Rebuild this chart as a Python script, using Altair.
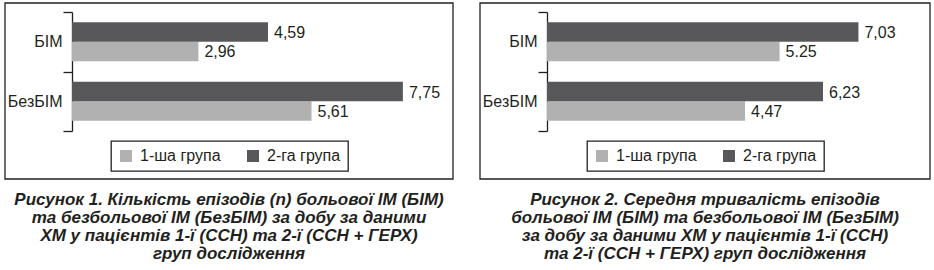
import altair as alt
import pandas as pd

categories = ["БІМ", "БезБІМ"]
groups = ["1-ша група", "2-га група"]

fig1_g1 = [2.96, 5.61]
fig1_g2 = [4.59, 7.75]
fig1_lab_g1 = ["2,96", "5,61"]
fig1_lab_g2 = ["4,59", "7,75"]

fig2_g1 = [5.25, 4.47]
fig2_g2 = [7.03, 6.23]
fig2_lab_g1 = ["5.25", "4,47"]
fig2_lab_g2 = ["7,03", "6,23"]

cap1 = ["Рисунок 1.  Кількість епізодів (n) больової ІМ (БІМ)",
        "та безбольової ІМ (БезБІМ) за добу за даними",
        "ХМ у пацієнтів 1-ї (ССН) та 2-ї (ССН + ГЕРХ)",
        "груп дослідження"]
cap2 = ["Рисунок 2.  Середня тривалість епізодів",
        "больової ІМ (БІМ) та безбольової ІМ (БезБІМ)",
        "за добу за даними ХМ у пацієнтів 1-ї (ССН)",
        "та 2-ї (ССН + ГЕРХ) груп дослідження"]

FONT = "Liberation Sans"
INK = "#231f20"
LIGHT = "#b1b1b1"
DARK = "#58585a"
FS = 16


def panel(g1, g2, lab1, lab2, xdomain, xrange, axis_off, leg_x, leg_y):
    df = pd.DataFrame({
        "cat": categories + categories,
        "grp": [groups[0]] * 2 + [groups[1]] * 2,
        "val": g1 + g2,
        "lab": lab1 + lab2,
    })
    base = alt.Chart(df).encode(
        y=alt.Y("cat:N", title=None,
                scale=alt.Scale(domain=categories, range=[12, 131], paddingInner=0, paddingOuter=0),
                axis=alt.Axis(orient="left", offset=axis_off, domainColor=INK, domainWidth=1.3,
                              tickColor=INK, tickWidth=1.3, tickSize=9, tickBand="extent",
                              labelFont=FONT, labelFontSize=FS, labelColor=INK, labelPadding=1,
                              grid=False)),
        yOffset=alt.YOffset("grp:N",
                            scale=alt.Scale(domain=[groups[1], groups[0]], paddingInner=0, paddingOuter=0.526)),
        x=alt.X("val:Q", axis=None,
                scale=alt.Scale(domain=xdomain, range=xrange, nice=False, zero=True)),
    )
    bars = base.mark_bar().encode(
        color=alt.Color("grp:N",
                        scale=alt.Scale(domain=groups, range=[LIGHT, DARK]),
                        legend=alt.Legend(title=None, orient="none", legendX=leg_x, legendY=leg_y,
                                          direction="horizontal", strokeColor=INK, padding=7,
                                          symbolType="square", symbolSize=144, symbolStrokeWidth=0,
                                          symbolOpacity=1, labelFont=FONT, labelFontSize=FS,
                                          labelColor=INK, labelOffset=6, columnPadding=24))
    )
    text = base.mark_text(align="left", baseline="middle", dx=6, dy=1, font=FONT, fontSize=FS,
                          color=INK).encode(text="lab:N")
    return alt.layer(bars, text)


one = pd.DataFrame({"d": [0]})


def frame(x1, x2):
    return alt.Chart(one).mark_rect(fillOpacity=0, stroke=INK, strokeWidth=1.3).encode(
        x=alt.value(x1), x2=alt.value(x2), y=alt.value(3), y2=alt.value(179))


def caption(xc, lines):
    return alt.Chart(one).mark_text(font=FONT, fontSize=17, fontStyle="italic", fontWeight="bold",
                                    align="center", baseline="alphabetic", lineHeight=18,
                                    color=INK).encode(
        x=alt.value(xc), y=alt.value(204.5), text=alt.value(lines))


p1 = panel(fig1_g1, fig1_g2, fig1_lab_g1, fig1_lab_g2, [0, 8.9], [72, 452], -72, 111, 141)
p2 = panel(fig2_g1, fig2_g2, fig2_lab_g1, fig2_lab_g2, [0, 8.6], [547, 928], -547, 587, 141)

chart = alt.layer(
    frame(5, 453), frame(480, 930), caption(229, cap1), caption(705, cap2), p1, p2
).resolve_scale(
    x="independent", y="independent", color="independent", yOffset="independent"
).resolve_axis(y="independent").resolve_legend(color="independent").properties(
    width=934, height=270, padding=0, background="white",
    autosize=alt.AutoSizeParams(type="none")
).configure_view(strokeWidth=0).configure_legend(strokeWidth=1.3)

chart.save("out.html", embed_options={"renderer": "svg", "actions": False})
